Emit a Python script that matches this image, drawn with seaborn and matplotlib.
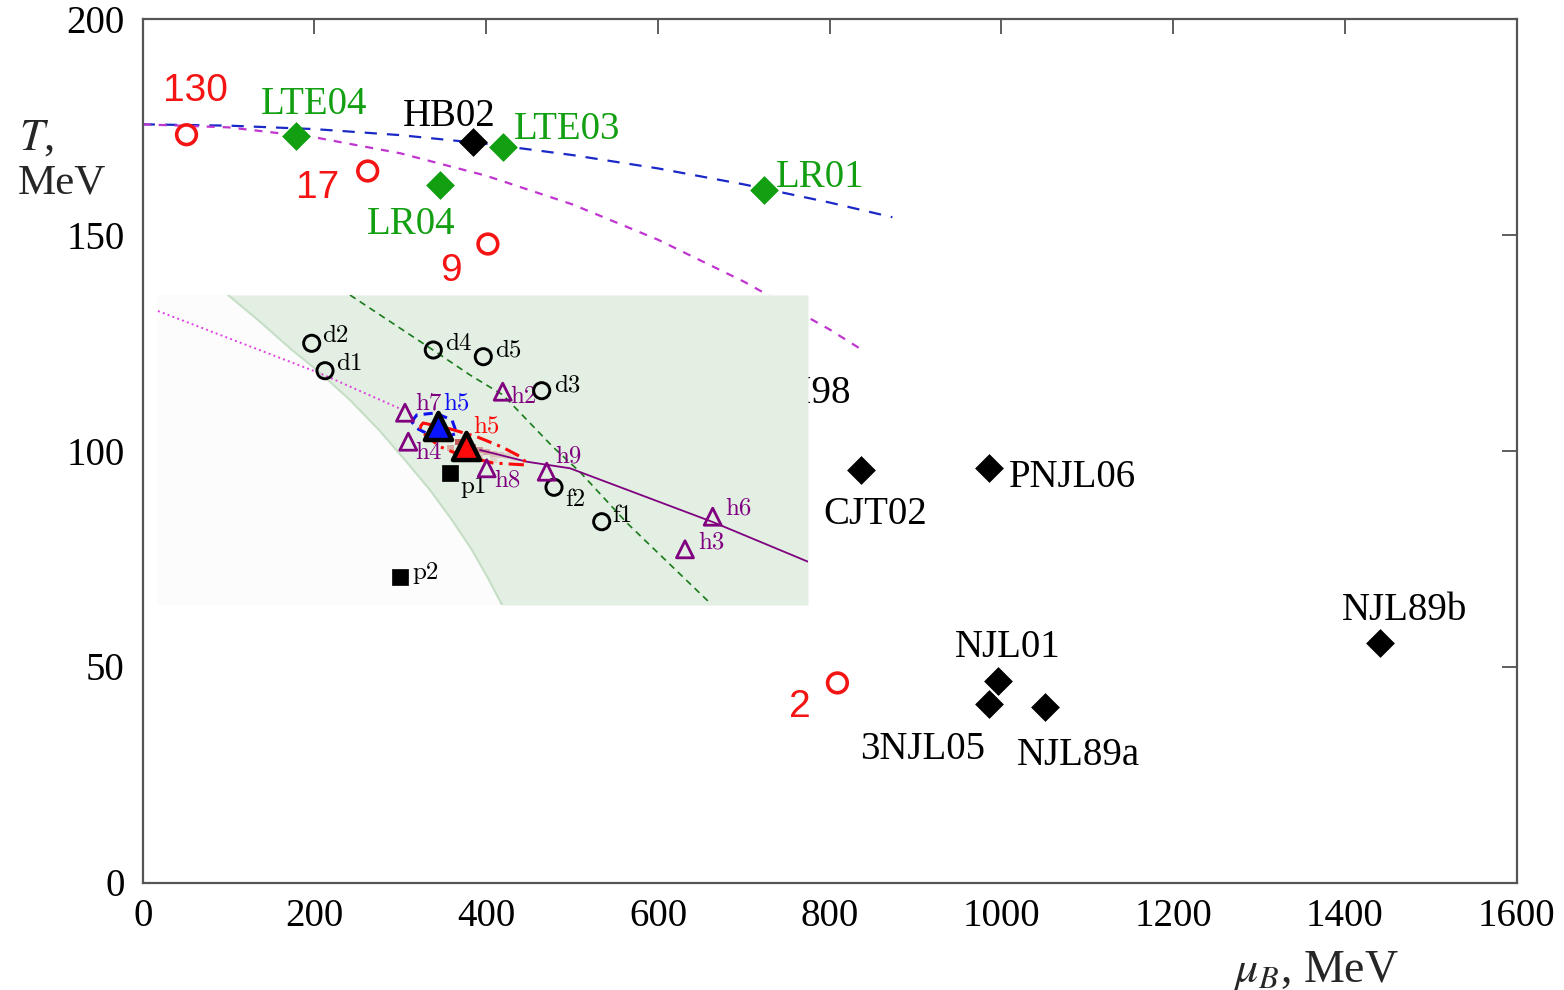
import matplotlib
matplotlib.use("Agg")
import matplotlib.pyplot as plt
import seaborn as sns
import pandas as pd

# ---------------- main panel data (mu_B [MeV], T [MeV]) ----------------
# freeze-out points (red open circles), labelled by collision energy
fo_mu = [51.0, 262.0, 402.0, 809.0]
fo_T = [173.1, 164.7, 147.8, 46.2]
fo_labels = ["130", "17", "9", "2"]
fo_lab_mu = [61.7, 203.8, 358.7, 765.0]
fo_lab_T = [184.2, 161.7, 142.5, 41.5]

# lattice critical points (green diamonds)
lat_mu = [179.0, 346.0, 419.0, 724.0]
lat_T = [172.9, 161.5, 170.2, 160.4]
lat_labels = ["LTE04", "LR04", "LTE03", "LR01"]
lat_lab_mu = [199.1, 313.2, 493.7, 788.4]
lat_lab_T = [181.2, 153.4, 175.4, 164.3]

# model critical points (black diamonds)
mod_mu = [384.6, 836.9, 985.5, 996.0, 985.5, 1050.3, 1440.5]
mod_T = [171.4, 95.4, 96.0, 46.7, 41.3, 40.7, 55.5]
mod_labels = ["HB02", "CJT02", "PNJL06", "NJL01", "3NJL05", "NJL89a", "NJL89b"]
mod_lab_mu = [357.5, 853.2, 1082.2, 1007.7, 908.7, 1089.6, 1469.6]
mod_lab_T = [178.4, 86.3, 94.7, 55.4, 31.8, 30.5, 63.9]
hidden_label = "NJL/I98"
hidden_lab_mu = 825.0
hidden_lab_T = 114.2

# transition lines
blue_mu = [0, 100, 200, 300, 400, 500, 600, 700, 800, 873]
blue_T = [175.5, 175.2, 174.4, 173.0, 171.0, 168.4, 165.3, 161.6, 157.4, 154.0]
mag_mu = [0, 100, 200, 300, 400, 500, 600, 700, 800, 840]
mag_T = [175.5, 174.8, 172.5, 168.8, 163.6, 157.0, 148.8, 139.1, 128.0, 123.0]

x_ticks = [0, 200, 400, 600, 800, 1000, 1200, 1400, 1600]
y_ticks = [0, 50, 100, 150, 200]

# ---------------- inset data (inset's own units) ----------------
in_circ_x = [154.7, 168.0, 276.3, 326.3, 384.7, 397.0, 444.7]
in_circ_y = [261.7, 234.3, 255.0, 248.3, 214.3, 117.7, 83.3]
in_circ_labels = ["d2", "d1", "d4", "d5", "d3", "f2", "f1"]
in_circ_lab_x = [178.3, 192.7, 301.7, 351.0, 410.0, 418.3, 465.7]
in_circ_lab_y = [269.0, 241.0, 261.0, 254.3, 220.0, 105.0, 89.0]

in_tri_x = [248.0, 251.3, 345.7, 329.7, 389.7, 555.7, 528.0]
in_tri_y = [192.3, 163.3, 213.3, 136.7, 133.3, 88.3, 55.7]
in_tri_labels = ["h7", "h4", "h2", "h8", "h9", "h6", "h3"]
in_tri_lab_x = [271.3, 271.7, 366.0, 350.7, 411.0, 581.0, 554.7]
in_tri_lab_y = [201.7, 152.3, 207.7, 124.3, 148.3, 96.7, 62.7]

cep_x = [280.5, 308.8]
cep_y = [179.3, 159.5]
cep_colors = ["#0a14ff", "#ff0a0a"]
cep_labels = ["h5", "h5"]
cep_lab_x = [299.7, 329.7]
cep_lab_y = [201.7, 179.0]

sq_x = [293.0, 243.0]
sq_y = [131.7, 28.3]
sq_labels = ["p1", "p2"]
sq_lab_x = [316.3, 268.7]
sq_lab_y = [118.3, 32.3]

# green region boundary
bnd_x = [71, 101, 135, 161, 193, 222, 248, 273, 295, 315, 332, 345]
bnd_y = [310, 285, 255, 234, 205, 175, 145, 115, 85, 55, 25, 0]

dot_x = [1, 163, 246]
dot_y = [294, 231.7, 195]
pur_x = [323, 336.3, 369.7, 413, 555.7, 651]
pur_y = [155, 151.7, 143.3, 136.7, 83, 43.3]
grn_x = [193, 276, 313, 346, 396, 423, 470, 553]
grn_y = [310, 255, 230, 210, 158, 133, 82, 2]

blue_ct_x = [254.7, 259.7, 278.0, 295.0, 299.7, 289.7, 273.0, 259.7, 254.7]
blue_ct_y = [183.3, 190.0, 192.0, 185.0, 171.7, 168.3, 170.0, 176.7, 183.3]
red_ct_x = [263, 266, 290, 319.7, 345, 366, 369.7, 336, 303, 283, 266, 263]
red_ct_y = [178, 182, 177, 168.3, 158, 147, 140, 142, 150, 158.3, 172, 178]

shade_x = [301, 308, 315, 293, 322, 329, 336, 343, 350, 357, 308, 322, 336]
shade_y = [163, 160, 158, 157, 155, 153, 151, 150, 149, 147, 153, 148, 145]
shade_a = [0.75, 0.8, 0.6, 0.35, 0.45, 0.35, 0.25, 0.2, 0.15, 0.1, 0.3, 0.2, 0.12]

# ---------------- style ----------------
sns.set_theme(style="white")
plt.rcParams["font.family"] = ["Liberation Serif", "DejaVu Serif"]
plt.rcParams["mathtext.fontset"] = "stix"

W, H = 1564, 990
fig = plt.figure(figsize=(W / 100, H / 100), dpi=100)
ax = fig.add_axes([142.7 / W, 1 - 882.5 / H, 1374 / W, 864 / H])
ax.set_facecolor("white")

RED = "#f41414"
GREEN = "#12a012"

# curves
sns.lineplot(x=blue_mu, y=blue_T, ax=ax, color="#1a28c8", lw=1.6,
             linestyle=(0, (5.5, 4.5)), sort=False, estimator=None)
sns.lineplot(x=mag_mu, y=mag_T, ax=ax, color="#c035d0", lw=1.6,
             linestyle=(0, (3.6, 3.6)), sort=False, estimator=None)

# markers
sns.scatterplot(x=fo_mu, y=fo_T, ax=ax, marker="o", s=200, color=RED,
                facecolor="none", edgecolor=RED, linewidth=2.6, zorder=5)
sns.scatterplot(x=lat_mu, y=lat_T, ax=ax, marker="D", s=200, color=GREEN,
                edgecolor=GREEN, linewidth=0.5, zorder=5)
sns.scatterplot(x=mod_mu, y=mod_T, ax=ax, marker="D", s=200, color="black",
                edgecolor="black", linewidth=0.5, zorder=5)

for t, x, y in zip(fo_labels, fo_lab_mu, fo_lab_T):
    ax.text(x, y, t, color=RED, fontsize=28, ha="center", va="center_baseline",
            family=["Liberation Sans", "DejaVu Sans"])
for t, x, y in zip(lat_labels, lat_lab_mu, lat_lab_T):
    ax.text(x, y, t, color=GREEN, fontsize=28, ha="center", va="center_baseline")
for t, x, y in zip(mod_labels, mod_lab_mu, mod_lab_T):
    ax.text(x, y, t, color="black", fontsize=28, ha="center", va="center_baseline")
ax.text(hidden_lab_mu, hidden_lab_T, hidden_label, color="black", fontsize=28,
        ha="right", va="center_baseline")

ax.set_xlim(0, 1600)
ax.set_ylim(0, 200)
ax.set_xticks(x_ticks)
ax.set_yticks(y_ticks)
ax.set_xticklabels([str(v) for v in x_ticks])
ax.set_yticklabels([str(v) for v in y_ticks])
ax.tick_params(direction="in", top=True, right=True, length=11, width=1.1,
               color="#333333", labelsize=28, labelcolor="black")
ax.tick_params(axis="x", pad=11)
ax.tick_params(axis="y", pad=13)
for sp in ax.spines.values():
    sp.set_color("#555555")
    sp.set_linewidth(1.6)
ax.set_xlabel("")
ax.set_ylabel("")

fig.text(19 / W, 1 - 150 / H, r"$T$,", fontsize=32, ha="left", va="baseline")
fig.text(18 / W, 1 - 194 / H, "MeV", fontsize=31, ha="left", va="baseline")
fig.text(1233 / W, 1 - 982 / H, r"$\mu_B$, MeV", fontsize=33, ha="left", va="baseline")

# ---------------- inset ----------------
IX0, IX1, IY0, IY1 = 157, 808, 295, 605
axi = fig.add_axes([IX0 / W, 1 - IY1 / H, (IX1 - IX0) / W, (IY1 - IY0) / H])
axi.set_facecolor("#fcfcfc")
axi.set_xlim(0, IX1 - IX0)
axi.set_ylim(0, IY1 - IY0)
axi.set_xticks([])
axi.set_yticks([])
for sp in axi.spines.values():
    sp.set_visible(False)

axi.fill_betweenx(bnd_y, bnd_x, IX1 - IX0, color="#e2efe2", lw=0, zorder=0)
axi.plot(bnd_x, bnd_y, color="#c6dec6", lw=1.5, zorder=0.5)

# shaded likelihood cells
for x, y, a in zip(shade_x, shade_y, shade_a):
    axi.bar(x, 6, bottom=y - 3, width=7, color="#c03030", alpha=a, lw=0, zorder=1)

sns.lineplot(x=dot_x, y=dot_y, ax=axi, color="#e040e0", lw=1.4, linestyle=":",
             sort=False, estimator=None)
sns.lineplot(x=grn_x, y=grn_y, ax=axi, color="#1a7a1a", lw=1.2,
             linestyle=(0, (4, 3)), sort=False, estimator=None)
sns.lineplot(x=pur_x, y=pur_y, ax=axi, color="#800080", lw=1.3,
             sort=False, estimator=None)
sns.lineplot(x=blue_ct_x, y=blue_ct_y, ax=axi, color="#1010f0", lw=2.2,
             linestyle=(0, (3, 2)), sort=False, estimator=None)
sns.lineplot(x=red_ct_x, y=red_ct_y, ax=axi, color="#ff0a0a", lw=2.2,
             linestyle=(0, (5, 2, 1, 2)), sort=False, estimator=None)

sns.scatterplot(x=in_circ_x, y=in_circ_y, ax=axi, marker="o", s=135,
                color="black", facecolor="none", edgecolor="black",
                linewidth=2.1, zorder=5)
sns.scatterplot(x=in_tri_x, y=in_tri_y, ax=axi, marker="^", s=150,
                color="#800080", facecolor="none", edgecolor="#800080",
                linewidth=2.0, zorder=5)
sns.scatterplot(x=sq_x, y=sq_y, ax=axi, marker="s", s=125, color="black",
                edgecolor="black", linewidth=0.5, zorder=5)
for x, y, c in zip(cep_x, cep_y, cep_colors):
    sns.scatterplot(x=[x], y=[y], ax=axi, marker="^", s=380, color=c,
                    edgecolor="black", linewidth=3.2, zorder=6)

ifont = ["cmr10", "DejaVu Serif"]
FS_IN = 18
for t, x, y in zip(in_circ_labels, in_circ_lab_x, in_circ_lab_y):
    axi.text(x, y, t, fontsize=FS_IN, color="black", ha="center", va="center", family=ifont)
for t, x, y in zip(in_tri_labels, in_tri_lab_x, in_tri_lab_y):
    axi.text(x, y, t, fontsize=FS_IN, color="#800080", ha="center", va="center", family=ifont)
for t, x, y, c in zip(cep_labels, cep_lab_x, cep_lab_y, ["#1010f0", "#ff0a0a"]):
    axi.text(x, y, t, fontsize=FS_IN, color=c, ha="center", va="center", family=ifont)
for t, x, y in zip(sq_labels, sq_lab_x, sq_lab_y):
    axi.text(x, y, t, fontsize=FS_IN, color="black", ha="center", va="center", family=ifont)

fig.savefig("out.png", dpi=100)
